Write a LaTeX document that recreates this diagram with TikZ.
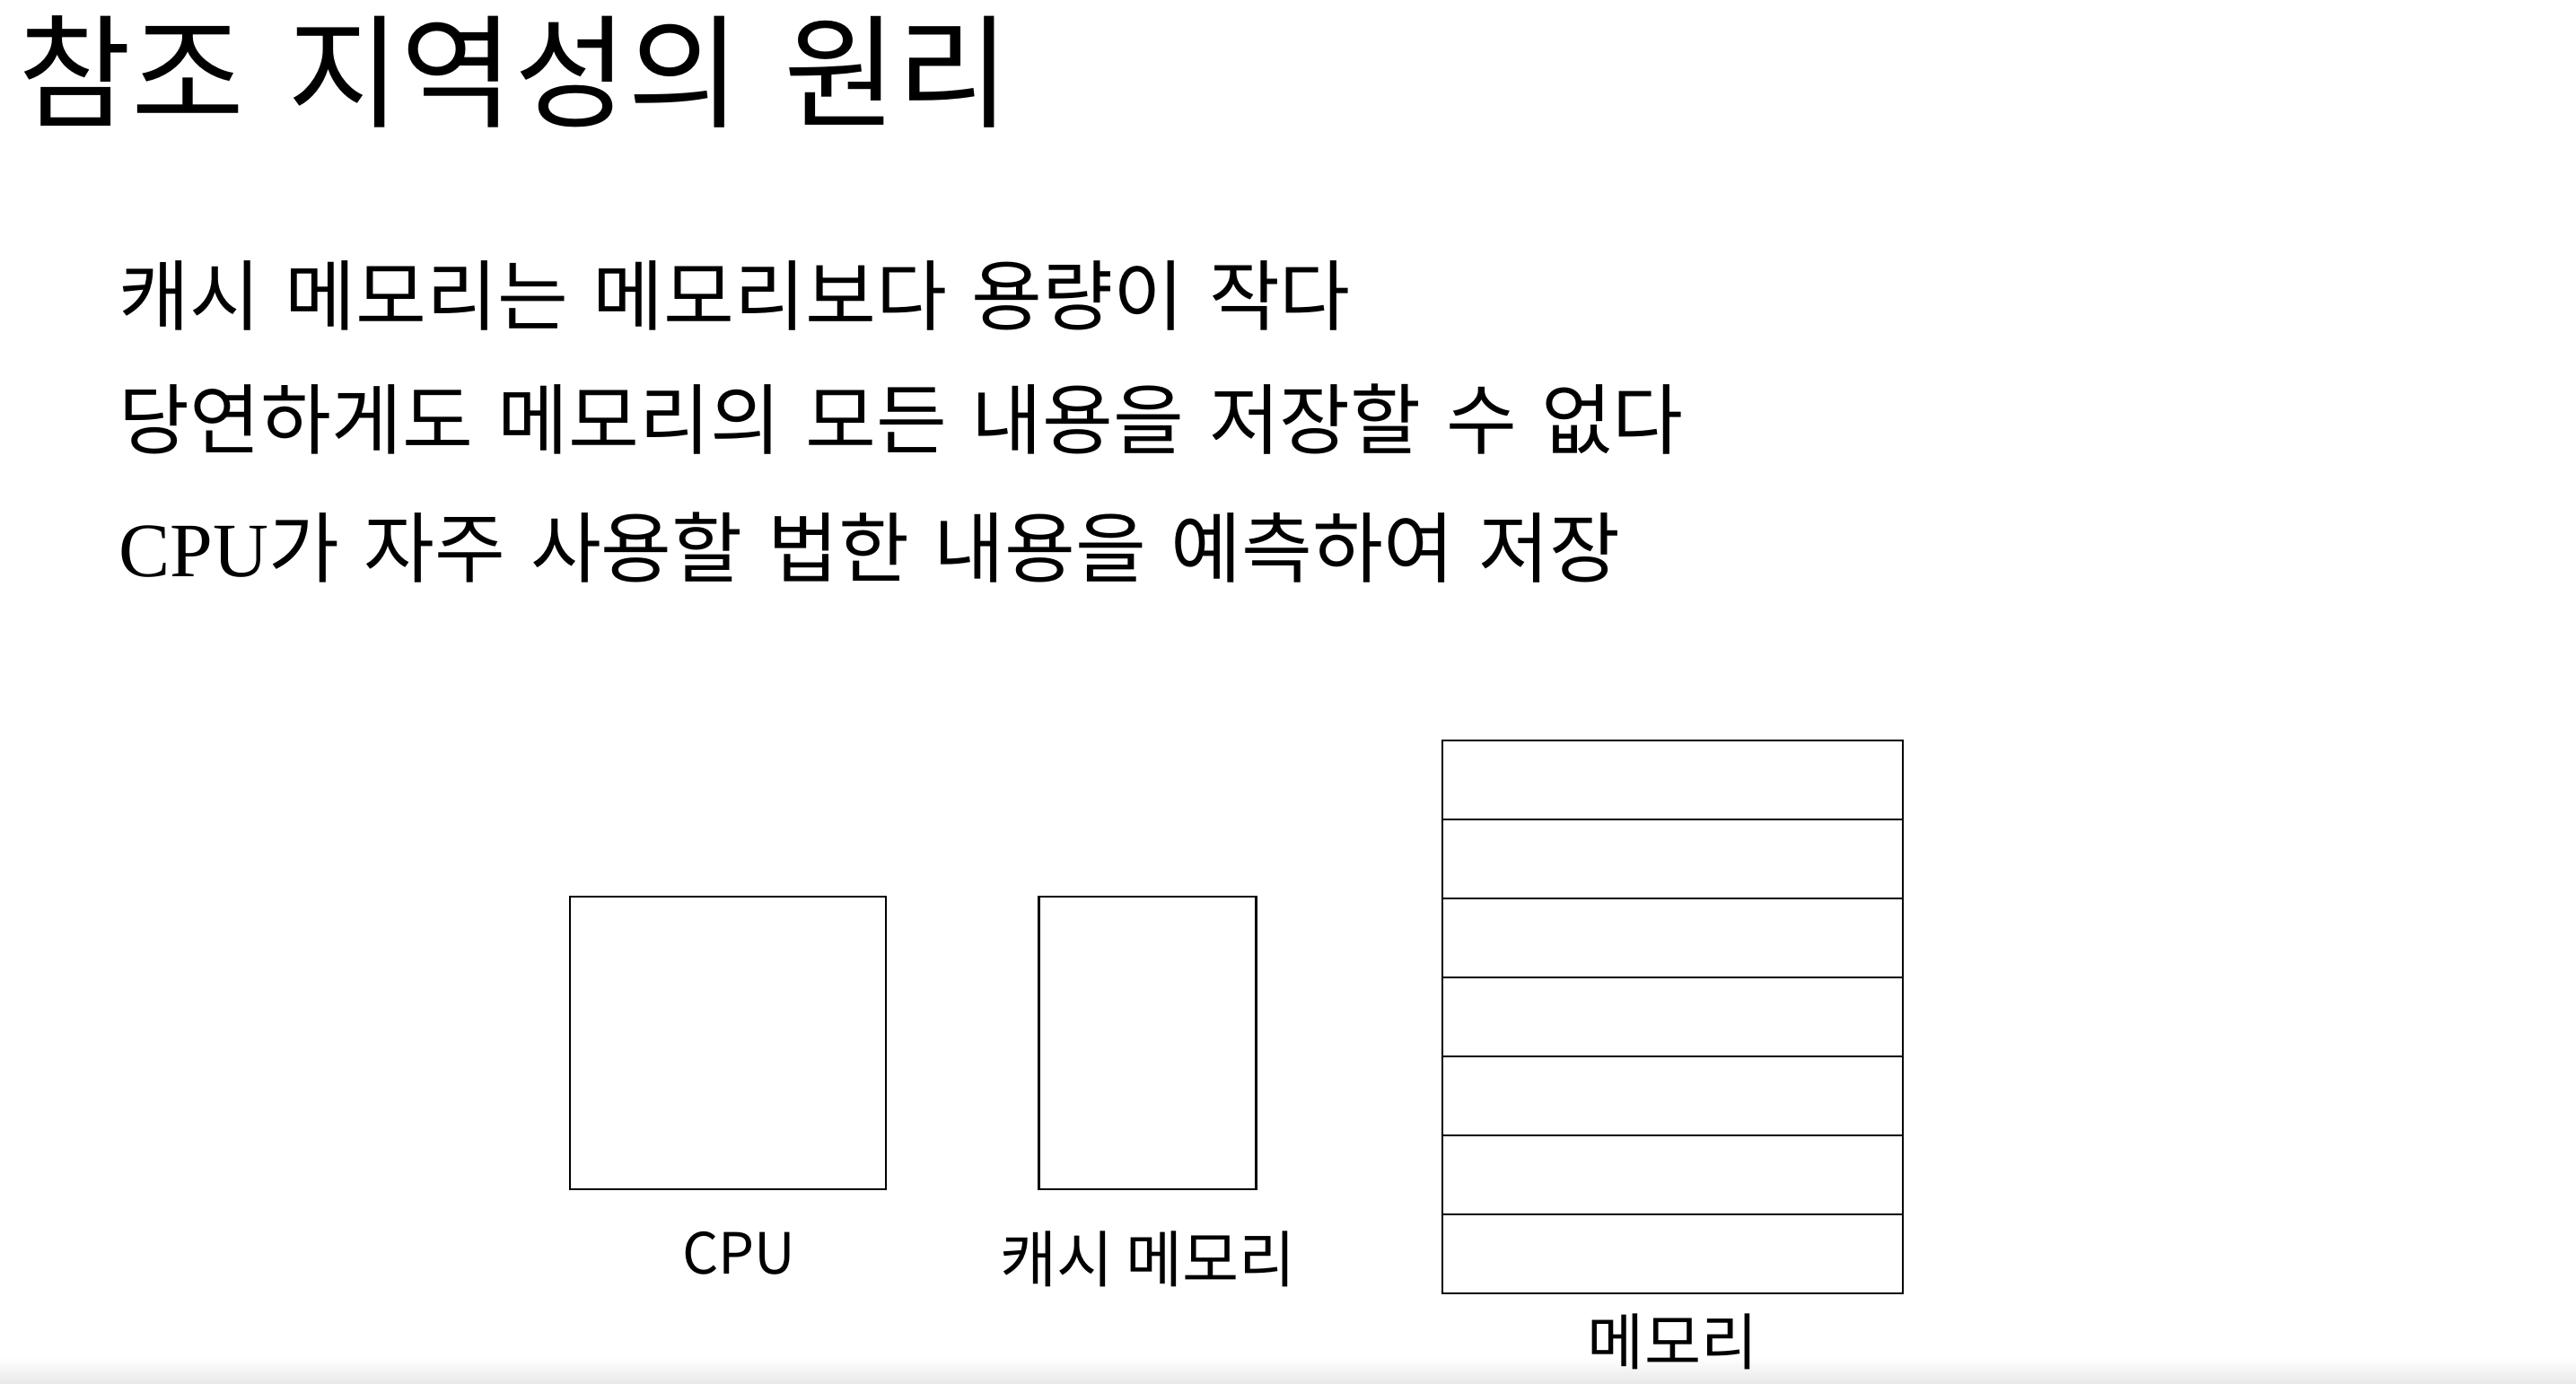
\documentclass[tikz,border=0pt]{standalone}
\usepackage{fontspec}
\setmainfont{Liberation Serif}
\newfontfamily\cjk{Noto Sans CJK KR}
\newfontfamily\lat{Liberation Serif}
\newcommand\wordgap[1]{\spaceskip #1\relax}
\usetikzlibrary{positioning}
\tikzset{
    box/.style={draw, line width=0.8pt, inner sep=0pt}, % the outline of each part
    cpubox/.style={box, minimum width=3.52cm, minimum height=3.26cm},
    cachebox/.style={box, minimum width=2.42cm, minimum height=3.26cm},
    memcell/.style={box, outer sep=0pt, minimum width=5.13cm, minimum height=0.88cm}, % one row of the memory
    caption/.style={inner sep=0pt, font=\cjk\fontsize{19.5}{22}\selectfont\wordgap{0.2em}},
    textline/.style={anchor=west, inner sep=0pt, font=\cjk\fontsize{24.4}{28}\selectfont\wordgap{0.32em}},
    node distance=0.45cm,
}
\begin{document}
\begin{tikzpicture}
    \fill[white] (0,0) rectangle (28.70,15.42);
    \useasboundingbox (0,0) rectangle (28.70,15.42);
    \shade[top color=white, bottom color=black!9] (0,0) rectangle (28.70,0.3);
    % title and text
    \node[inner sep=0pt, anchor=west, font=\cjk\fontsize{39}{44}\selectfont\wordgap{0.35em}] (title) at (0.20,14.62) {참조 지역성의 원리};
    \node[textline] (line1) at (1.32,12.13) {캐시 메모리는 메모리보다 용량이 작다};
    \node[textline] (line2) at (1.32,10.75) {당연하게도 메모리의 모든 내용을 저장할 수 없다};
    \node[textline] (line3) at (1.32,9.32) {{\lat CPU}가 자주 사용할 법한 내용을 예측하여 저장};
    % the parts
    \node[cpubox] (cpu) at (8.11,3.80) {};
    \node[cachebox, right=1.68cm of cpu] (cache) {};
    \node[memcell, anchor=north west] (mem1) at (16.07,15.42-8.25) {};
    \foreach \i [remember=\i as \j (initially 1)] in {2,...,7}
        \node[memcell, below=0pt of mem\j] (mem\i) {};
    % labels
    \node[caption, font=\cjk\fontsize{18}{20}\selectfont, below=of cpu, xshift=0.12cm] (cpulabel) {CPU};
    \node[caption, below=of cache] (cachelabel) {캐시 메모리};
    \node[caption, below=0.22cm of mem7] (memlabel) {메모리};
\end{tikzpicture}
\end{document}
